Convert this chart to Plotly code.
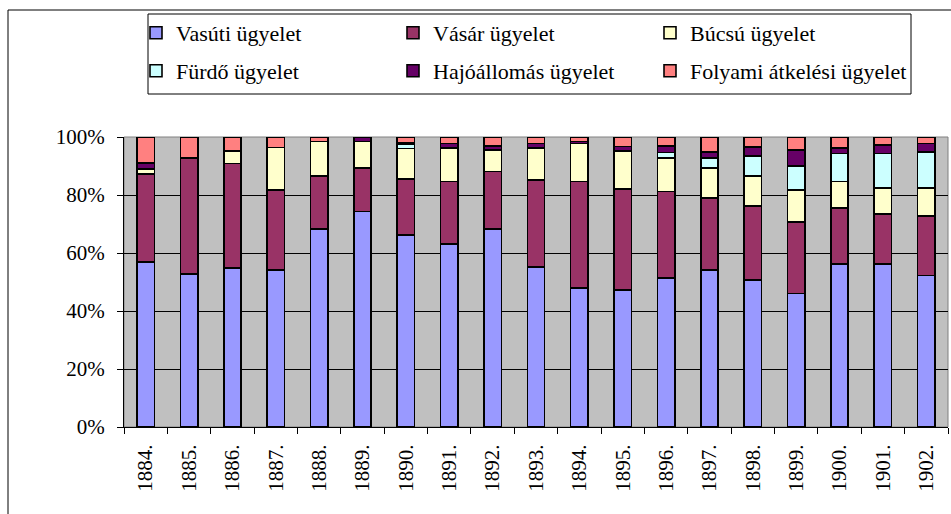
import plotly.graph_objects as go

years = ["1884.", "1885.", "1886.", "1887.", "1888.", "1889.", "1890.", "1891.", "1892.", "1893.",
         "1894.", "1895.", "1896.", "1897.", "1898.", "1899.", "1900.", "1901.", "1902."]

vasuti =  [57.0, 52.8, 54.9, 54.2, 68.2, 74.3, 65.9, 63.1, 68.2, 55.1, 47.9, 47.2, 51.4, 54.1, 50.7, 46.0, 56.2, 56.2, 52.2]
vasar =   [30.2, 39.9, 36.0, 27.6, 18.4, 15.1, 19.3, 21.6, 19.9, 30.1, 36.8, 34.6, 29.8, 24.8, 25.6, 24.6, 19.3, 17.3, 20.6]
bucsu =   [1.8, 0.0, 4.3, 14.6, 11.8, 9.0, 10.4, 11.6, 7.5, 11.1, 13.0, 13.1, 11.6, 10.5, 10.2, 11.2, 9.1, 9.0, 9.6]
furdo =   [0.0, 0.0, 0.0, 0.0, 0.0, 0.0, 1.4, 0.0, 0.0, 0.0, 0.0, 0.0, 1.9, 3.4, 7.0, 8.3, 9.7, 11.8, 12.5]
hajo =    [2.0, 0.0, 0.0, 0.0, 0.0, 1.6, 0.5, 1.4, 1.3, 1.4, 0.8, 1.6, 2.3, 2.1, 3.0, 5.5, 2.0, 2.9, 2.8]
folyami = [9.0, 7.3, 4.8, 3.6, 1.6, 0.0, 2.1, 2.3, 3.1, 2.3, 1.5, 3.2, 3.0, 5.1, 3.5, 4.4, 3.7, 2.8, 2.3]

series = [
    ("Vasúti ügyelet", vasuti, "#9999FF", "legend"),
    ("Vásár ügyelet", vasar, "#993366", "legend"),
    ("Búcsú ügyelet", bucsu, "#FFFFCC", "legend"),
    ("Fürdő ügyelet", furdo, "#CCFFFF", "legend2"),
    ("Hajóállomás ügyelet", hajo, "#660066", "legend2"),
    ("Folyami átkelési ügyelet", folyami, "#FF8080", "legend2"),
]

FONT = "Liberation Serif, Times New Roman, serif"

fig = go.Figure()
for name, vals, col, lg in series:
    fig.add_trace(go.Bar(
        x=years, y=vals, name=name, legend=lg,
        marker=dict(color=col, line=dict(color="black", width=1.6)),
    ))

W, H = 951, 514
L, R, T, B = 124, 3, 137, 87
PW, PH = W - L - R, H - T - B

def px(x):
    return (x - L) / PW

def py(y):
    return (H - B - y) / PH

fig.update_layout(
    width=W, height=H,
    margin=dict(l=L, r=R, t=T, b=B, pad=0),
    barmode="stack", barnorm="percent", bargap=0.6,
    plot_bgcolor="#C0C0C0", paper_bgcolor="white",
    font=dict(family=FONT, size=21, color="black"),
    showlegend=True,
    legend=dict(orientation="h", x=px(136), y=py(33), xanchor="left", yanchor="middle",
                entrywidth=212, entrywidthmode="pixels", bgcolor="rgba(0,0,0,0)",
                borderwidth=0, font=dict(family=FONT, size=22), traceorder="normal"),
    legend2=dict(orientation="h", x=px(136), y=py(71), xanchor="left", yanchor="middle",
                 entrywidth=212, entrywidthmode="pixels", bgcolor="rgba(0,0,0,0)",
                 borderwidth=0, font=dict(family=FONT, size=22), traceorder="normal"),
    xaxis=dict(type="category", showline=True, linecolor="black", linewidth=1,
               ticks="outside", ticklen=6, tickcolor="black", tickson="boundaries",
               tickangle=-90, showgrid=False, ticklabelstandoff=8,
               tickfont=dict(family=FONT, size=21)),
    yaxis=dict(range=[0, 100], dtick=20, ticksuffix="%", showline=True, linecolor="black",
               linewidth=1, ticks="outside", ticklen=6, tickcolor="black",
               showgrid=True, gridcolor="black", gridwidth=1, zeroline=False,
               ticklabelstandoff=8, tickfont=dict(family=FONT, size=21)),
    shapes=[
        # plot area frame
        dict(type="rect", xref="paper", yref="paper", x0=0, x1=1, y0=0, y1=1,
             line=dict(color="#808080", width=1), layer="below"),
        # legend frame
        dict(type="rect", xref="paper", yref="paper", x0=px(148), x1=px(911), y0=py(94), y1=py(14),
             line=dict(color="black", width=1), fillcolor="rgba(0,0,0,0)"),
        # chart outer border (top and left)
        dict(type="line", xref="paper", yref="paper", x0=px(8), x1=px(953), y0=py(10), y1=py(10),
             line=dict(color="black", width=1)),
        dict(type="line", xref="paper", yref="paper", x0=px(8), x1=px(8), y0=py(10), y1=py(516),
             line=dict(color="black", width=1)),
    ],
)

fig.write_html("out.html", config={"displayModeBar": False},
               post_script="document.body.style.margin='0';document.body.style.overflow='hidden';")
